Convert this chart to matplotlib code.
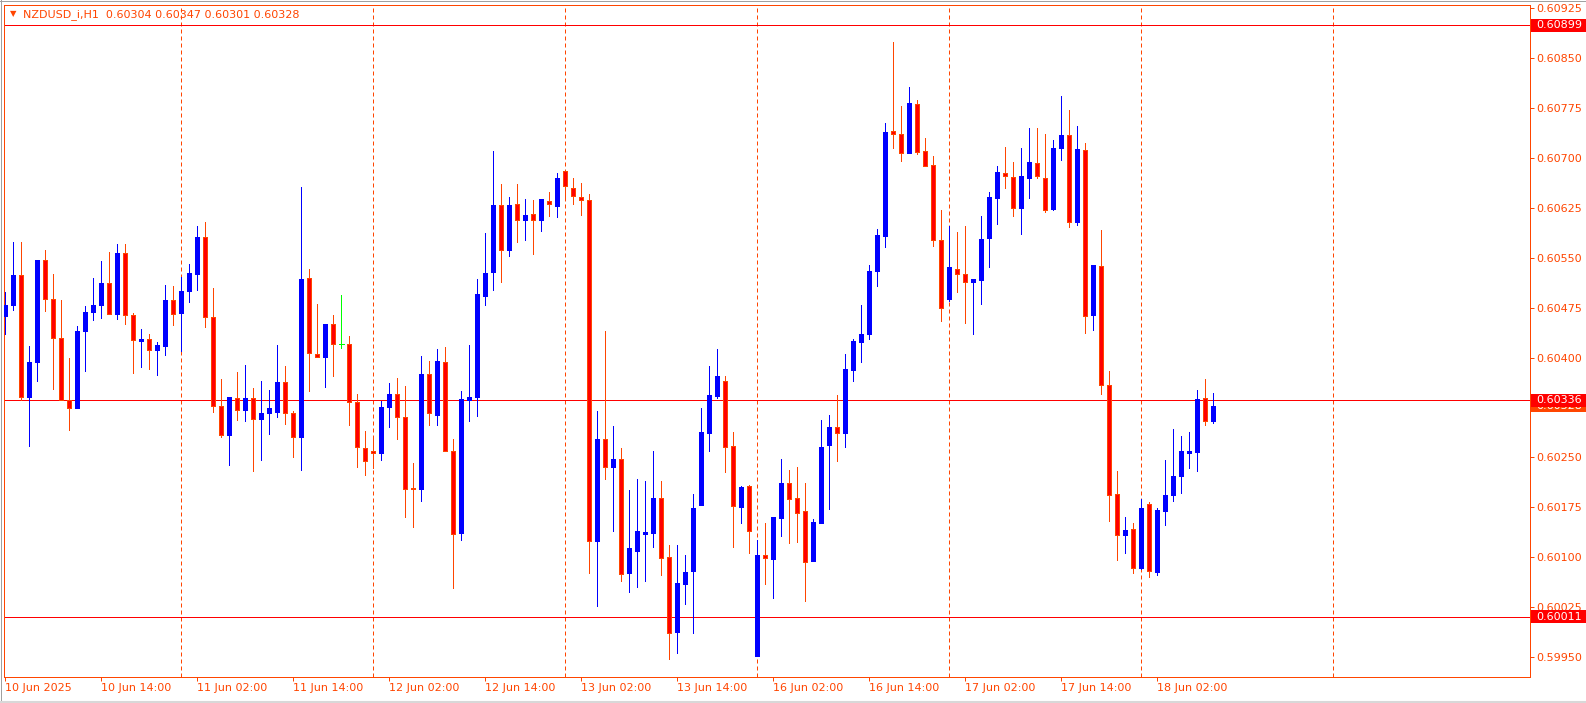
import matplotlib
matplotlib.use("Agg")
import matplotlib.pyplot as plt
from matplotlib.patches import Rectangle
from matplotlib.lines import Line2D
import numpy as np

# NZDUSD_i H1 bars, 10 Jun 02:00 .. 18 Jun 09:00 (one entry per bar)
opens = [
    0.60463, 0.60479, 0.60524, 0.60341, 0.60393, 0.60547, 0.60488, 0.60429, 0.60336, 0.60325,
    0.60440, 0.60468, 0.60479, 0.60512, 0.60466, 0.60557, 0.60464, 0.60425, 0.60428, 0.60411,
    0.60418, 0.60486, 0.60467, 0.60500, 0.60526, 0.60581, 0.60461, 0.60328, 0.60283, 0.60339,
    0.60322, 0.60340, 0.60308, 0.60317, 0.60319, 0.60364, 0.60316, 0.60281, 0.60520, 0.60406,
    0.60401, 0.60450, 0.60420, 0.60420, 0.60334, 0.60264, 0.60259, 0.60256, 0.60326, 0.60345,
    0.60311, 0.60204, 0.60202, 0.60375, 0.60314, 0.60394, 0.60260, 0.60136, 0.60337, 0.60341,
    0.60492, 0.60528, 0.60629, 0.60562, 0.60630, 0.60607, 0.60615, 0.60606, 0.60635, 0.60628,
    0.60681, 0.60655, 0.60641, 0.60636, 0.60125, 0.60277, 0.60235, 0.60248, 0.60076, 0.60110,
    0.60135, 0.60137, 0.60189, 0.60100, 0.59988, 0.60060, 0.60079, 0.60179, 0.60286, 0.60342,
    0.60365, 0.60267, 0.60175, 0.60207, 0.59951, 0.60103, 0.60098, 0.60159, 0.60212, 0.60189,
    0.60169, 0.60095, 0.60151, 0.60268, 0.60295, 0.60287, 0.60381, 0.60424, 0.60436, 0.60530,
    0.60583, 0.60740, 0.60736, 0.60708, 0.60781, 0.60711, 0.60690, 0.60577, 0.60488, 0.60533,
    0.60525, 0.60514, 0.60516, 0.60579, 0.60640, 0.60678, 0.60671, 0.60624, 0.60670, 0.60693,
    0.60670, 0.60623, 0.60715, 0.60734, 0.60604, 0.60712, 0.60464, 0.60537, 0.60359, 0.60195,
    0.60134, 0.60143, 0.60084, 0.60180, 0.60078, 0.60170, 0.60194, 0.60222, 0.60256, 0.60258,
    0.60339, 0.60304,
]
highs = [
    0.60499, 0.60573, 0.60573, 0.60417, 0.60547, 0.60561, 0.60526, 0.60486, 0.60400, 0.60447,
    0.60477, 0.60520, 0.60545, 0.60559, 0.60571, 0.60571, 0.60467, 0.60443, 0.60435, 0.60423,
    0.60509, 0.60507, 0.60521, 0.60540, 0.60597, 0.60604, 0.60505, 0.60368, 0.60341, 0.60379,
    0.60389, 0.60355, 0.60365, 0.60351, 0.60419, 0.60387, 0.60320, 0.60656, 0.60533, 0.60480,
    0.60450, 0.60464, 0.60494, 0.60432, 0.60346, 0.60290, 0.60282, 0.60335, 0.60362, 0.60369,
    0.60357, 0.60242, 0.60402, 0.60395, 0.60413, 0.60416, 0.60278, 0.60350, 0.60419, 0.60518,
    0.60587, 0.60710, 0.60661, 0.60641, 0.60661, 0.60638, 0.60637, 0.60638, 0.60649, 0.60677,
    0.60682, 0.60670, 0.60662, 0.60646, 0.60320, 0.60440, 0.60297, 0.60264, 0.60201, 0.60218,
    0.60215, 0.60260, 0.60215, 0.60118, 0.60118, 0.60103, 0.60195, 0.60324, 0.60387, 0.60413,
    0.60373, 0.60288, 0.60207, 0.60209, 0.60126, 0.60152, 0.60161, 0.60248, 0.60231, 0.60236,
    0.60212, 0.60158, 0.60306, 0.60314, 0.60344, 0.60405, 0.60428, 0.60479, 0.60539, 0.60593,
    0.60752, 0.60874, 0.60778, 0.60806, 0.60787, 0.60730, 0.60703, 0.60622, 0.60598, 0.60589,
    0.60598, 0.60518, 0.60613, 0.60649, 0.60688, 0.60716, 0.60694, 0.60715, 0.60745, 0.60745,
    0.60736, 0.60727, 0.60793, 0.60772, 0.60748, 0.60722, 0.60539, 0.60592, 0.60380, 0.60230,
    0.60161, 0.60152, 0.60188, 0.60183, 0.60174, 0.60246, 0.60293, 0.60282, 0.60288, 0.60351,
    0.60368, 0.60347,
]
lows = [
    0.60436, 0.60471, 0.60336, 0.60267, 0.60365, 0.60470, 0.60353, 0.60336, 0.60291, 0.60324,
    0.60380, 0.60456, 0.60460, 0.60466, 0.60458, 0.60450, 0.60377, 0.60386, 0.60383, 0.60374,
    0.60404, 0.60449, 0.60410, 0.60484, 0.60501, 0.60446, 0.60319, 0.60280, 0.60238, 0.60306,
    0.60304, 0.60229, 0.60246, 0.60285, 0.60311, 0.60300, 0.60251, 0.60231, 0.60350, 0.60401,
    0.60356, 0.60372, 0.60414, 0.60298, 0.60235, 0.60224, 0.60234, 0.60246, 0.60295, 0.60278,
    0.60161, 0.60146, 0.60185, 0.60299, 0.60298, 0.60260, 0.60054, 0.60126, 0.60304, 0.60312,
    0.60479, 0.60501, 0.60514, 0.60552, 0.60574, 0.60577, 0.60556, 0.60590, 0.60613, 0.60611,
    0.60639, 0.60631, 0.60614, 0.60076, 0.60027, 0.60218, 0.60139, 0.60064, 0.60048, 0.60055,
    0.60064, 0.60115, 0.60073, 0.59947, 0.59956, 0.60030, 0.59987, 0.60178, 0.60260, 0.60339,
    0.60228, 0.60115, 0.60152, 0.60107, 0.59951, 0.60060, 0.60039, 0.60132, 0.60122, 0.60123,
    0.60035, 0.60095, 0.60151, 0.60173, 0.60245, 0.60265, 0.60365, 0.60394, 0.60428, 0.60507,
    0.60566, 0.60715, 0.60696, 0.60708, 0.60706, 0.60688, 0.60568, 0.60455, 0.60485, 0.60499,
    0.60452, 0.60436, 0.60481, 0.60536, 0.60601, 0.60654, 0.60612, 0.60586, 0.60639, 0.60669,
    0.60618, 0.60621, 0.60697, 0.60596, 0.60599, 0.60437, 0.60441, 0.60345, 0.60155, 0.60096,
    0.60106, 0.60077, 0.60082, 0.60071, 0.60074, 0.60148, 0.60185, 0.60197, 0.60234, 0.60230,
    0.60298, 0.60301,
]
closes = [
    0.60479, 0.60524, 0.60341, 0.60393, 0.60547, 0.60488, 0.60429, 0.60336, 0.60325, 0.60440,
    0.60468, 0.60479, 0.60512, 0.60466, 0.60557, 0.60464, 0.60426, 0.60428, 0.60412, 0.60419,
    0.60486, 0.60466, 0.60500, 0.60527, 0.60581, 0.60461, 0.60328, 0.60283, 0.60341, 0.60322,
    0.60340, 0.60308, 0.60317, 0.60325, 0.60364, 0.60316, 0.60280, 0.60518, 0.60407, 0.60401,
    0.60450, 0.60420, 0.60420, 0.60333, 0.60265, 0.60244, 0.60256, 0.60326, 0.60346, 0.60311,
    0.60203, 0.60202, 0.60375, 0.60316, 0.60395, 0.60260, 0.60135, 0.60338, 0.60341, 0.60495,
    0.60527, 0.60629, 0.60561, 0.60629, 0.60607, 0.60614, 0.60607, 0.60638, 0.60630, 0.60670,
    0.60657, 0.60642, 0.60637, 0.60125, 0.60278, 0.60235, 0.60248, 0.60075, 0.60114, 0.60140,
    0.60138, 0.60189, 0.60099, 0.59987, 0.60061, 0.60078, 0.60174, 0.60288, 0.60344, 0.60372,
    0.60265, 0.60177, 0.60205, 0.60140, 0.60103, 0.60099, 0.60161, 0.60212, 0.60188, 0.60167,
    0.60093, 0.60153, 0.60266, 0.60296, 0.60287, 0.60383, 0.60425, 0.60435, 0.60530, 0.60584,
    0.60739, 0.60736, 0.60708, 0.60782, 0.60709, 0.60688, 0.60577, 0.60475, 0.60536, 0.60526,
    0.60514, 0.60518, 0.60578, 0.60641, 0.60679, 0.60672, 0.60625, 0.60673, 0.60694, 0.60672,
    0.60622, 0.60715, 0.60734, 0.60604, 0.60713, 0.60463, 0.60539, 0.60359, 0.60194, 0.60134,
    0.60141, 0.60084, 0.60174, 0.60080, 0.60171, 0.60194, 0.60222, 0.60260, 0.60259, 0.60338,
    0.60304, 0.60328,
]

time_labels = ["10 Jun 2025", "10 Jun 14:00", "11 Jun 02:00", "11 Jun 14:00",
               "12 Jun 02:00", "12 Jun 14:00", "13 Jun 02:00", "13 Jun 14:00",
               "16 Jun 02:00", "16 Jun 14:00", "17 Jun 02:00", "17 Jun 14:00",
               "18 Jun 02:00"]
time_label_bars = [0, 12, 24, 36, 48, 60, 72, 84, 96, 108, 120, 132, 144]
day_start_bars = [22, 46, 70, 94, 118, 142, 166]
price_ticks = [0.59950, 0.60025, 0.60100, 0.60175, 0.60250, 0.60325, 0.60400,
               0.60475, 0.60550, 0.60625, 0.60700, 0.60775, 0.60850, 0.60925]
level_lines = [0.60899, 0.60336, 0.60011]
bid_price = 0.60328
title = "NZDUSD_i,H1  0.60304 0.60347 0.60301 0.60328"

FG = "#FF4500"
BULL = "#0000FF"
BEAR = "#FF0000"
DOJI = "#00FF00"
LW = 0.72  # one pixel at 100 dpi

W, H = 1586, 703
fig = plt.figure(figsize=(W / 100, H / 100), dpi=100)
fig.patch.set_facecolor("white")

# plot frame in pixels
left, right, top, bottom = 4.3, 1529.5, 4.5, 677.0
ax = fig.add_axes([left / W, 1 - bottom / H, (right - left) / W, (bottom - top) / H])

# 8 px per bar, bar 0 centred at x=5.3 px; 0.00075 per 49.93 px
bar_px, x0_px = 8.0, 5.3
px_per_price, y_ref_px, p_ref = 66573.0, 8.07, 0.60925
ax.set_xlim((left - x0_px) / bar_px, (right - x0_px) / bar_px)
ax.set_ylim(p_ref - (bottom - y_ref_px) / px_per_price, p_ref + (y_ref_px - top) / px_per_price)

o, h, l, c = (np.array(v) for v in (opens, highs, lows, closes))
x = np.arange(len(o))
up = c > o
dn = c < o
dj = c == o

# day separators
ax.vlines(day_start_bars, *ax.get_ylim(), colors=FG, linestyles=(0, (4, 3)), lw=LW, zorder=1)

# wicks
ax.vlines(x[up], l[up], h[up], colors=BULL, lw=LW, zorder=3, antialiased=False)
ax.vlines(x[dn], l[dn], h[dn], colors=FG, lw=LW, zorder=3, antialiased=False)
ax.vlines(x[dj], l[dj], h[dj], colors=DOJI, lw=LW, zorder=3, antialiased=False)

# bodies
ax.bar(x[up], c[up] - o[up], bottom=o[up], width=0.5, facecolor=BULL, edgecolor=BULL,
       lw=LW, zorder=4, antialiased=False)
ax.bar(x[dn], o[dn] - c[dn], bottom=c[dn], width=0.5, facecolor=BEAR, edgecolor=FG,
       lw=LW, zorder=4, antialiased=False)
ax.hlines(o[dj], x[dj] - 0.3, x[dj] + 0.3, colors=DOJI, lw=LW, zorder=4, antialiased=False)

for p in level_lines:
    ax.axhline(p, color="#FF0000", lw=LW, zorder=2)

# axes styling
for s in ax.spines.values():
    s.set_color(FG)
    s.set_linewidth(LW)
ax.yaxis.tick_right()
ax.set_yticks(price_ticks, [f"{p:.5f}" for p in price_ticks])
ax.tick_params(axis="y", length=2.6, width=LW, color=FG, labelcolor=FG, labelsize=8, pad=2.5)
ax.set_xticks(time_label_bars, time_labels)
ax.tick_params(axis="x", length=3, width=LW, color=FG, labelcolor=FG, labelsize=8, pad=1.5)
for lbl in ax.get_xticklabels():
    lbl.set_ha("left")


def price_box(p, face, z):
    yd = ax.transData.transform((0, p))[1]
    fig.patches.append(Rectangle((1530.5 / W, (yd - 6.5) / H), (W - 1530.5) / W, 13 / H,
                                 transform=fig.transFigure, facecolor=face,
                                 edgecolor="none", zorder=z))
    fig.text(1536.5 / W, yd / H, f"{p:.5f}", color="white", fontsize=8,
             va="center", ha="left", zorder=z + 0.5)


price_box(bid_price, FG, 5)
for p in level_lines:
    price_box(p, "#FF0000", 6)

fig.text(13.7 / W, 1 - 14 / H, "\u25BC", color=FG, fontsize=6, ha="center", va="center")
fig.text(22.7 / W, 1 - 14.3 / H, title, color=FG, fontsize=8, ha="left", va="center")

# thin window edges
fig.add_artist(Line2D([0, 1], [1 - 0.5 / H] * 2, color="#A0A0A0", lw=LW, transform=fig.transFigure))
fig.add_artist(Line2D([0.5 / W] * 2, [0, 1], color="#A0A0A0", lw=LW, transform=fig.transFigure))
fig.add_artist(Line2D([0, 1], [1.5 / H] * 2, color="#D8D8D8", lw=2.2, transform=fig.transFigure))

fig.savefig("out.png", dpi=100)
